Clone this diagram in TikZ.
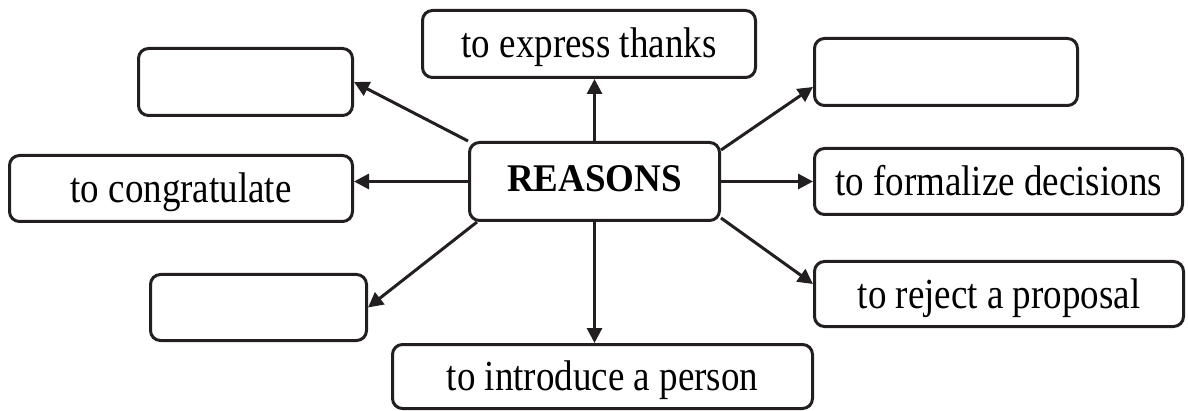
\documentclass[tikz,border=0pt]{standalone}
\usepackage{fontspec}
\usepackage{graphicx}
\setmainfont{Liberation Serif}
\usetikzlibrary{arrows.meta}
\definecolor{ink}{HTML}{231F20}
\newcommand{\vstretch}[2][1.16]{\scalebox{1}[#1]{#2}}
\tikzset{
  box/.style={draw=ink, line width=1.5pt, rounded corners=5pt, inner sep=0pt,
    text height=14pt, text depth=0pt,
    font=\fontsize{18.5pt}{22pt}\selectfont, text=black},
  arr/.style={draw=ink, line width=1.5pt, -{Triangle[length=7.5pt,width=7.5pt]}}
}
\begin{document}
\begin{tikzpicture}[x=0.5pt,y=-0.5pt]
\useasboundingbox (0,0) rectangle (1188,411);
\node[box, minimum width=166.5pt, minimum height=33.5pt] (thanks) at (589,44) {\vstretch{to express thanks}};
\node[box, minimum width=107pt, minimum height=33.5pt] (tl) at (245.5,82) {};
\node[box, minimum width=131.5pt, minimum height=33.5pt] (tr) at (946,72) {};
\node[box, minimum width=171.5pt, minimum height=33pt] (congr) at (181,188.5) {\vstretch{to congratulate}};
\node[box, minimum width=125pt, minimum height=39pt, text height=10.5pt, font=\fontsize{18.5pt}{22pt}\selectfont\bfseries] (reasons) at (594.5,181.5) {\vstretch[1.06]{REASONS}};
\node[box, minimum width=184pt, minimum height=33pt] (form) at (998.5,181.5) {\vstretch{to formalize decisions}};
\node[box, minimum width=108pt, minimum height=33pt] (bl) at (258.5,307.5) {};
\node[box, minimum width=184.5pt, minimum height=32.5pt] (rej) at (999,294) {\vstretch{to reject a proposal}};
\node[box, minimum width=210pt, minimum height=32pt] (intro) at (602.5,376.5) {\vstretch{to introduce a person}};
\draw[arr] (reasons.north) -- (reasons.north |- thanks.south);
\draw[arr] (reasons.south) -- (reasons.south |- intro.north);
\draw[arr] (reasons.west) -- (reasons.west -| congr.east);
\draw[arr] (reasons.east) -- (reasons.east -| form.west);
\draw[arr] (reasons.north west) -- (tl.east);
\draw[arr] ([yshift=-4.5pt]reasons.north east) -- ([yshift=-7.5pt]tr.west);
\draw[arr] ([xshift=4.5pt]reasons.south west) -- (bl.east);
\draw[arr] ([yshift=2pt]reasons.south east) -- ([yshift=5pt]rej.west);
\end{tikzpicture}
\end{document}
